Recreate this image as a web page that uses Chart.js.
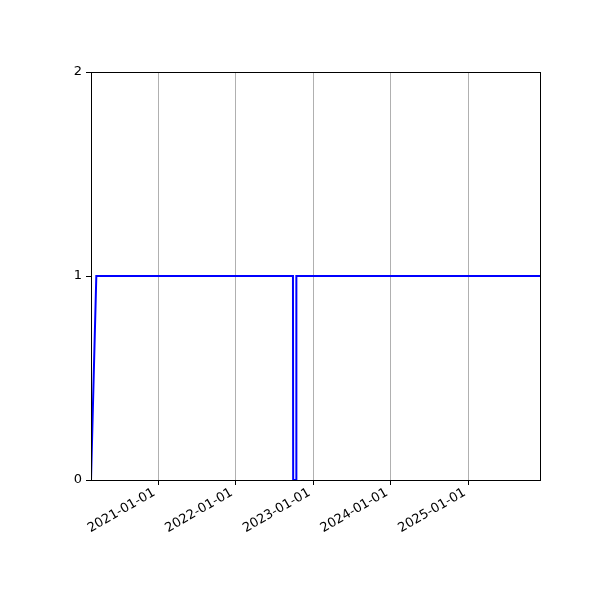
<!DOCTYPE html>
<html>
<head>
<meta charset="utf-8">
<script src="https://cdn.jsdelivr.net/npm/chart.js@4"></script>
<style>
  html, body { margin: 0; padding: 0; background: #fff; }
  #wrap { width: 600px; height: 600px; }
</style>
</head>
<body>
<div id="wrap"><canvas id="chart"></canvas></div>
<script>
const dates = ["2020-02-20", "2020-03-16", "2022-09-27", "2022-09-28", "2022-10-12", "2022-10-13", "2025-12-02"];
const values = [0, 1, 1, 0, 0, 1, 1];
const xTickLabels = ["2021-01-01", "2022-01-01", "2023-01-01", "2024-01-01", "2025-01-01"];
const yTickValues = [0, 1, 2];

const points = dates.map((d, i) => ({ x: Date.parse(d), y: values[i] }));

// matplotlib-like frame: all four spines
const framePlugin = {
  id: "frame",
  afterDraw(chart) {
    const { ctx, chartArea: a } = chart;
    ctx.save();
    ctx.strokeStyle = "#000";
    ctx.lineWidth = 1;
    ctx.strokeRect(Math.round(a.left) + 0.5, Math.round(a.top) + 0.5,
      Math.round(a.right - a.left), Math.round(a.bottom - a.top));
    ctx.restore();
  },
};

Chart.defaults.font.family = "'DejaVu Sans', sans-serif";
Chart.defaults.font.size = 13;
Chart.defaults.color = "#000";

new Chart(document.getElementById("chart"), {
  type: "line",
  data: {
    datasets: [
      {
        data: points,
        borderColor: "#0000ff",
        borderWidth: 2,
        pointRadius: 0,
        tension: 0,
        fill: false,
      },
    ],
  },
  options: {
    responsive: true,
    maintainAspectRatio: false,
    animation: false,
    layout: { padding: { top: 72, right: 60, left: 0, bottom: 0 } },
    plugins: { legend: { display: false }, tooltip: { enabled: false } },
    scales: {
      x: {
        type: "linear",
        min: points[0].x,
        max: points[points.length - 1].x,
        afterBuildTicks: (scale) => {
          scale.ticks = xTickLabels.map((l) => ({ value: Date.parse(l) }));
        },
        afterFit: (scale) => {
          scale.height = 120;
        },
        ticks: {
          minRotation: 30,
          maxRotation: 30,
          padding: 0,
          labelOffset: -4,
          callback: (v) => new Date(v).toISOString().slice(0, 10),
        },
        grid: {
          color: "#b0b0b0",
          lineWidth: 1,
          tickColor: "#000",
          tickLength: 5,
        },
        border: { color: "#000", width: 1 },
      },
      y: {
        min: 0,
        max: 2,
        afterBuildTicks: (scale) => {
          scale.ticks = yTickValues.map((v) => ({ value: v }));
        },
        afterFit: (scale) => {
          scale.width = 91;
        },
        ticks: { padding: 4 },
        grid: {
          drawOnChartArea: false,
          tickColor: "#000",
          tickLength: 5,
        },
        border: { color: "#000", width: 1 },
      },
    },
  },
  plugins: [framePlugin],
});
</script>
</body>
</html>
